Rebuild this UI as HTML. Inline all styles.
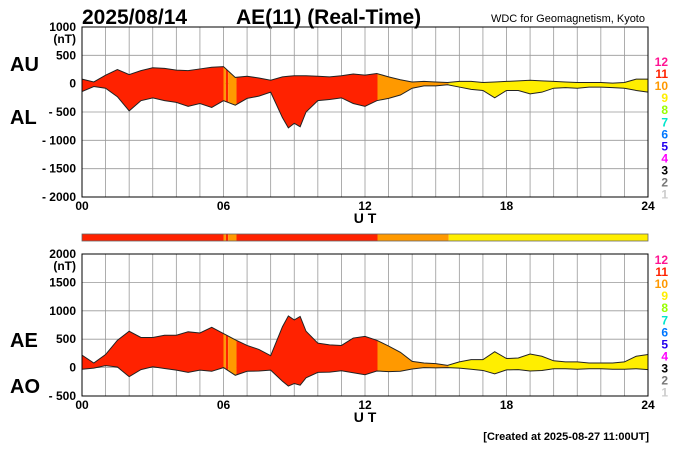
<!DOCTYPE html>
<html><head><meta charset="utf-8"><style>
body{margin:0;background:#fff;}
svg{display:block;font-family:"Liberation Sans",Arial,sans-serif;}
</style></head><body>
<svg id="c" width="700" height="450" viewBox="0 0 700 450">
<text x="82" y="24" font-size="21" font-weight="bold">2025/08/14</text>
<text x="236" y="24" font-size="21" font-weight="bold">AE(11) (Real-Time)</text>
<text x="645" y="22" font-size="11" text-anchor="end">WDC for Geomagnetism, Kyoto</text>
<text x="10" y="71" font-size="20" font-weight="bold">AU</text>
<text x="10" y="124" font-size="20" font-weight="bold">AL</text>
<text x="10" y="347" font-size="20" font-weight="bold">AE</text>
<text x="10" y="393" font-size="20" font-weight="bold">AO</text>
<text x="649" y="440" font-size="11" font-weight="bold" text-anchor="end">[Created at 2025-08-27 11:00UT]</text>
<g id="g"></g>
</svg>
<script>
const hours=[0,0.5,1,1.5,2,2.5,3,3.5,4,4.5,5,5.5,6,6.5,7,7.5,8,8.5,8.75,9,9.25,9.5,10,10.5,11,11.5,12,12.5,13,13.5,14,14.5,15,15.5,16,16.5,17,17.5,18,18.5,19,19.5,20,20.5,21,21.5,22,22.5,23,23.5,24];
const auValues=[80,30,150,250,160,230,280,270,240,230,260,290,300,110,130,100,60,120,130,140,140,140,130,120,140,170,150,180,120,70,30,40,30,20,40,40,20,30,40,50,60,50,40,30,20,20,20,10,20,80,80];
const alValues=[-140,-50,-80,-230,-480,-300,-250,-300,-330,-400,-350,-420,-300,-380,-260,-220,-150,-600,-780,-700,-760,-500,-300,-280,-250,-350,-400,-300,-260,-200,-80,-40,-40,-20,-60,-100,-120,-250,-120,-120,-180,-150,-80,-70,-80,-60,-60,-70,-80,-120,-150];
const segStart=[0,6.0,6.1,6.2,6.55,12.53,15.55];
const segColor=["#ff2200","#ff9900","#ff2200","#ff9900","#ff2200","#ff9900","#ffee00"];
const topTicks=[1000,500,0,-500,-1000,-1500,-2000];
const botTicks=[2000,1500,1000,500,0,-500];
const xTickLabels=["00","06","12","18","24"];
const levelLabels=["12","11","10","9","8","7","6","5","4","3","2","1"];
const levelColors=["#ff1493","#ff2200","#ff9900","#ffee00","#99ff00","#00e5cc","#0077ff","#2200ee","#ff00ff","#000","#777","#ccc"];
const aeValues=auValues.map((u,i)=>u-alValues[i]);
const aoValues=auValues.map((u,i)=>(u+alValues[i])/2);

const NS="http://www.w3.org/2000/svg";
const G=document.getElementById('g');
function mk(t,a,p){const e=document.createElementNS(NS,t);for(const k in a)e.setAttribute(k,a[k]);(p||G).appendChild(e);return e;}
const X0=82,X1=648;
const xs=h=>X0+h/24*(X1-X0);
function panel(id,yTop,yBot,vTop,vBot,ticks,upper,lower,lab1,lab2,legY){
  const ys=v=>yTop+(vTop-v)/(vTop-vBot)*(yBot-yTop);
  const pg=mk('g',{});
  
  
  for(let h=1;h<24;h++){const l=mk('line',{x1:xs(h),x2:xs(h),y1:yTop,y2:yBot,stroke:'#999','stroke-width':0.8},pg);
    }
  ticks.forEach(v=>{const y=ys(v);
    const l=mk('line',{x1:X0,x2:X1,y1:y,y2:y,stroke:'#999','stroke-width':0.8},pg);
    
    const t=mk('text',{x:76,y:y+4,'font-size':12,'font-weight':'bold','text-anchor':'end'},pg);
    t.textContent=(v<0?'- '+(-v):String(v));
    });
  const u=mk('text',{x:76,y:yTop+16,'font-size':12,'font-weight':'bold','text-anchor':'end'},pg);u.textContent='(nT)';
  
  let pts=hours.map((h,i)=>xs(h)+','+ys(upper[i]));
  for(let i=hours.length-1;i>=0;i--)pts.push(xs(hours[i])+','+ys(lower[i]));
  segStart.forEach((s,i)=>{const e=i+1<segStart.length?segStart[i+1]:24;
    const cid=id+'clip'+i;const cp=mk('clipPath',{id:cid},pg);mk('rect',{x:xs(s),y:yTop,width:xs(e)-xs(s),height:yBot-yTop},cp);
    const p=mk('polygon',{points:pts.join(' '),fill:segColor[i],'clip-path':'url(#'+cid+')'},pg);
    });
  [upper,lower].forEach((arr,k)=>{const l=mk('polyline',{points:hours.map((h,i)=>xs(h)+','+ys(arr[i])).join(' '),fill:'none',stroke:'#222','stroke-width':1},pg);
    });
  const r=mk('rect',{x:X0,y:yTop,width:X1-X0,height:yBot-yTop,fill:'none',stroke:'#000','stroke-width':1},pg);
  
  xTickLabels.forEach((s,i)=>{const t=mk('text',{x:xs(i*6),y:yBot+13,'font-size':12,'font-weight':'bold','text-anchor':'middle'},pg);t.textContent=s;
    });
  const ut=mk('text',{x:xs(12),y:yBot+26,'font-size':14,'font-weight':'bold','text-anchor':'middle'},pg);ut.textContent='U T';
  
  levelLabels.forEach((s,i)=>{const t=mk('text',{x:668,y:legY+i*12.05,'font-size':12,'font-weight':'bold','text-anchor':'end',fill:levelColors[i]},pg);t.textContent=s;
    });
}
panel('au-al',27,197,1000,-2000,topTicks,auValues,alValues,'au','al',66);
panel('ae-ao',254,396,2000,-500,botTicks,aeValues,aoValues,'ae','ao',264);
segStart.forEach((s,i)=>{const e=i+1<segStart.length?segStart[i+1]:24;
  const r=mk('rect',{x:xs(s),y:234,width:xs(e)-xs(s),height:7,fill:segColor[i]});
  });
const fb=mk('rect',{x:X0,y:234,width:X1-X0,height:7,fill:'none',stroke:'#666','stroke-width':0.8});

</script>
</body></html>
